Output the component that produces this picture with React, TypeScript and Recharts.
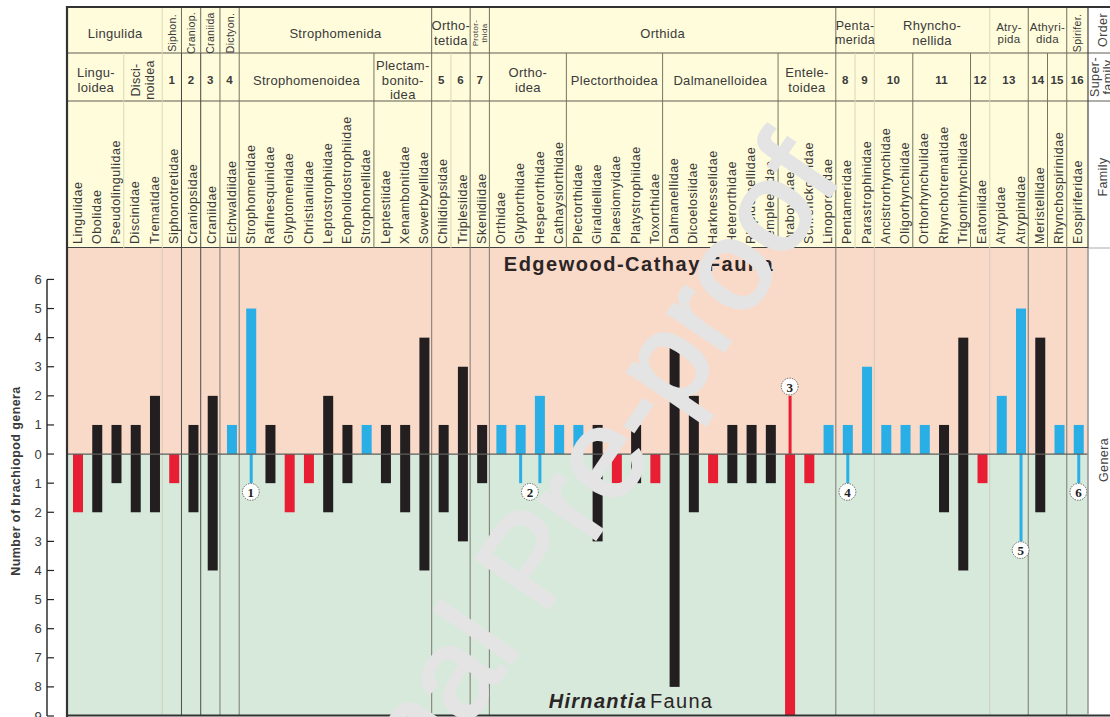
import { Bar, BarChart, ReferenceArea, ReferenceDot, ReferenceLine, XAxis, YAxis } from 'recharts'

const families = [
  'Lingulidae', 'Obolidae', 'Pseudolingulidae', 'Discinidae', 'Trematidae', 'Siphonotretidae', 'Craniopsidae',
  'Craniidae', 'Eichwaldiidae', 'Strophomenidae', 'Rafinesquinidae', 'Glyptomenidae', 'Christianiidae',
  'Leptostrophiidae', 'Eopholidostrophiidae', 'Strophonellidae', 'Leptestiidae', 'Xenambonitidae', 'Sowerbyellidae',
  'Chilidiopsidae', 'Triplesiidae', 'Skenidiidae', 'Orthidae', 'Glyptorthidae', 'Hesperorthidae', 'Cathaysiorthidae',
  'Plectorthidae', 'Giraldiellidae', 'Plaesiomyidae', 'Platystrophiidae', 'Toxorthidae', 'Dalmanellidae',
  'Dicoelosiidae', 'Harknesselidae', 'Heterorthidae', 'Rhipidomellidae', 'Templeellidae', 'Draboviidae',
  'Schrenckouridae', 'Linoporellidae', 'Pentameridae', 'Parastrophinidae', 'Ancistrorhynchidae', 'Oligorhynchiidae',
  'Orthorhynchulidae', 'Rhynchotrematidae', 'Trigonirhynchiidae', 'Eatoniidae', 'Atrypidae', 'Atrypinidae',
  'Meristellidae', 'Rhynchospirinidae', 'Eospiriferidae',
]

// genera in the Edgewood-Cathay fauna (up)
const edgewoodGenera = [
  0, 1, 1, 1, 2, 0, 1, 2, 1, 5, 1, 0, 0, 2, 1, 1, 1, 1, 4, 1, 3, 1, 1, 1, 2, 1, 1, 1, 0, 1, 0, 4, 2, 0, 1, 1, 1, 2, 0, 1,
  1, 3, 1, 1, 1, 1, 4, 0, 2, 5, 4, 1, 1,
]

// genera in the Hirnantia fauna (down)
const hirnantiaGenera = [
  2, 2, 1, 2, 2, 1, 2, 4, 0, 1, 1, 2, 1, 2, 1, 0, 1, 2, 4, 2, 3, 1, 0, 1, 1, 0, 0, 3, 1, 1, 1, 8, 2, 1, 1, 1, 1, 9, 1, 0,
  1, 0, 0, 0, 0, 2, 4, 1, 0, 3, 2, 0, 1,
]

// k = black, b = blue, r = red
const familyKinds = [
  'r', 'k', 'k', 'k', 'k', 'r', 'k', 'k', 'b', 'b', 'k', 'r', 'r', 'k', 'k', 'b', 'k', 'k', 'k', 'k', 'k', 'k', 'b', 'b',
  'b', 'b', 'b', 'k', 'r', 'k', 'r', 'k', 'k', 'r', 'k', 'k', 'k', 'r', 'r', 'b', 'b', 'b', 'b', 'b', 'b', 'k', 'k', 'r',
  'b', 'b', 'k', 'b', 'b',
]

const thinUp = ['Draboviidae']
const thinDown = ['Strophomenidae', 'Glyptorthidae', 'Hesperorthidae', 'Pentameridae', 'Atrypinidae', 'Eospiriferidae']

const yTicks = [6, 5, 4, 3, 2, 1, 0, -1, -2, -3, -4, -5, -6, -7, -8, -9]

const orderNames = [
  'Lingulida', 'Siphon.', 'Craniop.', 'Craniida', 'Dictyon.', 'Strophomenida', 'Ortho-\ntetida', 'Protor-\nthida',
  'Orthida', 'Penta-\nmerida', 'Rhyncho-\nnellida', 'Atry-\npida', 'Athyri-\ndida', 'Spirifer.',
]
const orderSpans = [5, 1, 1, 1, 1, 10, 2, 1, 18, 2, 6, 2, 2, 1]

const superNames = [
  'Lingu-\nloidea', 'Disci-\nnoidea', '1', '2', '3', '4', 'Strophomenoidea', 'Plectam-\nbonito-\nidea', '5', '6', '7',
  'Ortho-\nidea', 'Plectorthoidea', 'Dalmanelloidea', 'Entele-\ntoidea', '8', '9', '10', '11', '12', '13', '14', '15', '16',
]
const superSpans = [3, 2, 1, 1, 1, 1, 7, 3, 1, 1, 1, 4, 5, 6, 3, 1, 1, 2, 3, 1, 2, 1, 1, 1]

const markers = [
  { n: '1', family: 'Strophomenidae', y: -1.3, shift: 0 },
  { n: '2', family: 'Glyptorthidae', y: -1.3, shift: 0.5 },
  { n: '3', family: 'Draboviidae', y: 2.32, shift: 0 },
  { n: '4', family: 'Pentameridae', y: -1.3, shift: 0 },
  { n: '5', family: 'Atrypinidae', y: -3.3, shift: 0 },
  { n: '6', family: 'Eospiriferidae', y: -1.3, shift: 0 },
]

const data = families.map((family, i) => ({
  family,
  up: edgewoodGenera[i],
  down: -hirnantiaGenera[i],
  kind: familyKinds[i],
}))

const FONT = '"Liberation Sans", Arial, sans-serif'
const INK = '#3a3a3a'
const KIND_COLORS: Record<string, string> = { k: '#231f20', b: '#29aee6', r: '#e81f34' }

const PLOT_LEFT = 68
const PLOT_RIGHT = 1088
const PLOT_TOP = 248
const PLOT_BOTTOM = 716
const STEP = (PLOT_RIGHT - PLOT_LEFT) / families.length
const RULE_SHIFT = -2
const Y_MAX = 7.08
const UNIT = (PLOT_BOTTOM - PLOT_TOP) / (Y_MAX + 9)
const SPINE_X = 47

const ruleX = (i: number) => PLOT_LEFT + i * STEP + RULE_SHIFT

const darkRules = [6, 7]
const faintPlotRules = [5, 42, 48]
const midPlotRules = [8, 9, 19, 21, 22, 40, 50, 52]
const faintSuperRules = [3, 5, 20, 41, 42, 48]

const rotatedLabels = ['Siphon.', 'Craniop.', 'Craniida', 'Dictyon.', 'Protor-\nthida', 'Spirifer.', 'Disci-\nnoidea']
const smallLabels = ['Atry-\npida', 'Athyri-\ndida']

function accumulate(spans: number[]) {
  let at = 0
  return spans.map((span) => {
    const start = at
    at += span
    return { start, end: at }
  })
}

function HeaderLabel({ name, x, y, size, bold }: { name: string; x: number; y: number; size: number; bold?: boolean }) {
  const lines = name.split('\n')
  const rotated = rotatedLabels.includes(name)
  const lineHeight = size * 1.12
  return (
    <g transform={rotated ? `rotate(-90 ${x} ${y})` : undefined}>
      {lines.map((line, i) => (
        <text
          key={line}
          x={x}
          y={y + (i - (lines.length - 1) / 2) * lineHeight}
          textAnchor="middle"
          dominantBaseline="central"
          fontFamily={FONT}
          fontSize={size}
          fontWeight={bold ? 700 : 400}
          letterSpacing={0.3}
          fill={INK}
        >
          {line}
        </text>
      ))}
    </g>
  )
}

function orderSize(name: string) {
  if (name === 'Protor-\nthida') return 8
  if (rotatedLabels.includes(name)) return 10.5
  if (smallLabels.includes(name)) return 11.5
  if (name === 'Penta-\nmerida') return 12.5
  return 13
}

function superSize(name: string) {
  if (/^\d+$/.test(name)) return 11.5
  if (name === 'Disci-\nnoidea') return 12.5
  return 13
}

function HeaderLayer() {
  const orders = accumulate(orderSpans)
  const supers = accumulate(superSpans)
  return (
    <svg width={1110} height={717} style={{ position: 'absolute', left: 0, top: 0 }}>
      <rect x={PLOT_LEFT} y={8} width={PLOT_RIGHT - PLOT_LEFT} height={240} fill="#fffcdc" />
      <line x1={PLOT_LEFT} x2={1110} y1={53} y2={53} stroke="#5f5d50" />
      <line x1={PLOT_LEFT} x2={1110} y1={101} y2={101} stroke="#5f5d50" />
      <line x1={PLOT_LEFT} x2={PLOT_RIGHT} y1={247.5} y2={247.5} stroke="#444444" />
      <line x1={PLOT_RIGHT} x2={1110} y1={248} y2={248} stroke="#aaaaaa" />
      {orders.slice(0, -1).map(({ end }) => (
        <line
          key={end}
          x1={ruleX(end)}
          x2={ruleX(end)}
          y1={8}
          y2={53}
          stroke={faintPlotRules.includes(end) ? '#dcd8b4' : '#6f6d5c'}
        />
      ))}
      {supers.slice(0, -1).map(({ end }) => (
        <line
          key={end}
          x1={ruleX(end)}
          x2={ruleX(end)}
          y1={53}
          y2={248}
          stroke={faintSuperRules.includes(end) ? '#dcd8b4' : darkRules.includes(end) ? '#444444' : '#77755f'}
        />
      ))}
      {orders.map(({ start, end }, i) => {
        const left = start === 0 ? PLOT_LEFT : ruleX(start)
        const right = end === families.length ? PLOT_RIGHT : ruleX(end)
        return <HeaderLabel key={i} name={orderNames[i]} x={(left + right) / 2} y={33} size={orderSize(orderNames[i])} />
      })}
      {supers.map(({ start, end }, i) => {
        const left = start === 0 ? PLOT_LEFT : ruleX(start)
        const right = end === families.length ? PLOT_RIGHT : ruleX(end)
        return (
          <HeaderLabel
            key={i}
            name={superNames[i]}
            x={(left + right) / 2}
            y={80}
            size={superSize(superNames[i])}
            bold={/^\d+$/.test(superNames[i])}
          />
        )
      })}
    </svg>
  )
}

function FamilyTick({ x, payload }: any) {
  const py = PLOT_TOP - 4
  return (
    <text
      x={x}
      y={py}
      transform={`rotate(-90 ${x} ${py})`}
      dominantBaseline="central"
      fontFamily={FONT}
      fontSize={12.5}
      letterSpacing={0.55}
      fill={INK}
    >
      {payload.value}
    </text>
  )
}

function GeneraTick({ y, payload }: any) {
  const last = payload.value === yTicks[yTicks.length - 1]
  return (
    <g>
      {!last && <line x1={SPINE_X} x2={SPINE_X} y1={y} y2={y + UNIT} stroke="#222222" strokeWidth={1.4} />}
      <line x1={SPINE_X} x2={SPINE_X + 7} y1={y} y2={y} stroke="#222222" strokeWidth={1.2} />
      <text
        x={38}
        y={y}
        textAnchor="middle"
        dominantBaseline="central"
        fontFamily={FONT}
        fontSize={13}
        fill={INK}
      >
        {Math.abs(payload.value)}
      </text>
    </g>
  )
}

function GeneraBar({ x, y, width, height, payload, side }: any) {
  const thin = side === 'up' ? thinUp.includes(payload.family) : thinDown.includes(payload.family)
  const barWidth = thin ? 3 : width
  return (
    <rect
      x={x + (width - barWidth) / 2}
      y={Math.min(y, y + height)}
      width={barWidth}
      height={Math.abs(height)}
      fill={KIND_COLORS[payload.kind]}
    />
  )
}

function Rule(props: any) {
  return (
    <line
      x1={props.x1 + RULE_SHIFT}
      x2={props.x2 + RULE_SHIFT}
      y1={props.y1}
      y2={props.y2}
      stroke={props.stroke}
      strokeWidth={props.strokeWidth}
    />
  )
}

function Marker({ cx, cy, n, shift }: any) {
  const mx = cx + shift * STEP
  return (
    <g>
      <circle cx={mx} cy={cy} r={8.4} fill="#ffffff" stroke="#444444" strokeWidth={0.8} strokeDasharray="1.4 1.2" />
      <text
        x={mx}
        y={cy + 0.5}
        textAnchor="middle"
        dominantBaseline="central"
        fontFamily='"Liberation Serif", serif'
        fontWeight={700}
        fontSize={13}
        fill="#222222"
      >
        {n}
      </text>
    </g>
  )
}

function FrontLayer() {
  return (
    <svg width={1110} height={717} style={{ position: 'absolute', left: 0, top: 0 }}>
      {/* outer frame */}
      <line x1={67} x2={1110} y1={7} y2={7} stroke="#333333" strokeWidth={2.2} />
      <line x1={67} x2={67} y1={6} y2={717} stroke="#333333" strokeWidth={2.2} />
      <line x1={67} x2={1110} y1={715.5} y2={715.5} stroke="#333333" strokeWidth={2} />
      <line x1={PLOT_RIGHT} x2={PLOT_RIGHT} y1={8} y2={248} stroke="#444444" strokeWidth={1.2} />
      <line x1={PLOT_RIGHT} x2={PLOT_RIGHT} y1={248} y2={715} stroke="#999999" strokeWidth={1.6} />

      <text
        x={16}
        y={481}
        transform="rotate(-90 16 481)"
        textAnchor="middle"
        dominantBaseline="central"
        fontFamily={FONT}
        fontWeight={700}
        fontSize={12.5}
        letterSpacing={0.4}
        fill={INK}
      >
        Number of brachiopod genera
      </text>

      <text x={639} y={271} textAnchor="middle" fontFamily={FONT} fontWeight={700} fontSize={20} letterSpacing={1.5} fill="#2b2526">
        Edgewood-Cathay Fauna
      </text>
      <text x={631} y={708} textAnchor="middle" fontFamily={FONT} fontSize={20} letterSpacing={1.3} fill="#2b2526">
        <tspan fontStyle="italic" fontWeight={700}>
          Hirnantia
        </tspan>
        <tspan dx={3}>Fauna</tspan>
      </text>

      {/* right hand key */}
      <g fontFamily={FONT} fontSize={12.5} letterSpacing={0.4} fill="#444444" textAnchor="middle" dominantBaseline="central">
        <text x={1103} y={30} transform="rotate(-90 1103 30)">
          Order
        </text>
        <text x={1095} y={77} transform="rotate(-90 1095 77)">
          Super-
        </text>
        <text x={1108} y={77} transform="rotate(-90 1108 77)">
          family
        </text>
        <text x={1103} y={177} transform="rotate(-90 1103 177)">
          Family
        </text>
        <text x={1104} y={460} transform="rotate(-90 1104 460)">
          Genera
        </text>
      </g>

      {/* preprint stamp sits over everything */}
      <text
        x={286}
        y={993}
        transform="rotate(-55.7 286 993)"
        fontFamily={FONT}
        fontSize={128}
        fill="#e4e4e4"
        stroke="#e4e4e4"
        strokeWidth={3}
      >
        Journal Pre-proof
      </text>
    </svg>
  )
}

export default function App() {
  return (
    <div style={{ position: 'fixed', left: 0, top: 0, width: 1110, height: 717, overflow: 'hidden', background: '#ffffff' }}>
      <HeaderLayer />
      <div style={{ position: 'absolute', left: 0, top: 0 }}>
        <BarChart
          width={1110}
          height={735}
          data={data}
          stackOffset="sign"
          barSize={10}
          margin={{ top: PLOT_TOP - 1, right: 1110 - PLOT_RIGHT, bottom: 735 - PLOT_BOTTOM, left: PLOT_LEFT - 1 }}
        >
          <XAxis
            dataKey="family"
            orientation="top"
            height={1}
            interval={0}
            axisLine={false}
            tickLine={false}
            tick={<FamilyTick />}
          />
          <YAxis
            type="number"
            width={1}
            domain={[-9, Y_MAX]}
            ticks={yTicks}
            interval={0}
            allowDataOverflow
            axisLine={false}
            tickLine={false}
            tick={<GeneraTick />}
          />
          <ReferenceArea y1={0} y2={Y_MAX} fill="#f9d9c8" fillOpacity={1} stroke="none" />
          <ReferenceArea y1={-9} y2={0} fill="#d6e9db" fillOpacity={1} stroke="none" />
          {faintPlotRules.map((i) => (
            <ReferenceLine key={i} x={families[i]} position="start" stroke="#d3cbbc" strokeWidth={1} shape={<Rule />} />
          ))}
          {midPlotRules.map((i) => (
            <ReferenceLine key={i} x={families[i]} position="start" stroke="#84827a" strokeWidth={1.1} shape={<Rule />} />
          ))}
          {darkRules.map((i) => (
            <ReferenceLine key={i} x={families[i]} position="start" stroke="#4d4d4d" strokeWidth={1} shape={<Rule />} />
          ))}
          <Bar dataKey="up" stackId="genera" shape={<GeneraBar side="up" />} isAnimationActive={false} />
          <Bar dataKey="down" stackId="genera" shape={<GeneraBar side="down" />} isAnimationActive={false} />
          <ReferenceLine y={0} stroke="#5e5e5a" strokeWidth={1.2} />
          {markers.map((m) => (
            <ReferenceDot
              key={m.n}
              x={m.family}
              y={m.y}
              r={8}
              ifOverflow="visible"
              shape={(p: any) => <Marker {...p} n={m.n} shift={m.shift} />}
            />
          ))}
        </BarChart>
      </div>
      <FrontLayer />
    </div>
  )
}
